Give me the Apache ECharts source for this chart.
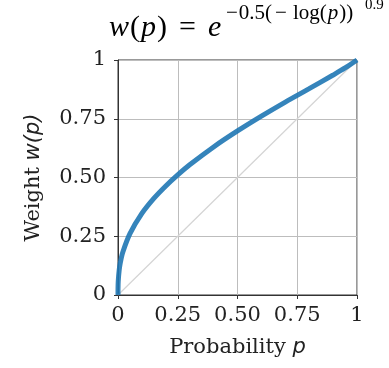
<!DOCTYPE html>
<html>
<head>
<meta charset="utf-8">
<script src="https://cdn.jsdelivr.net/npm/echarts@6/dist/echarts.min.js"></script>
<style>
  html, body { margin: 0; padding: 0; background: #fff; }
  #chart { width: 389px; height: 368px; }
</style>
</head>
<body>
<div id="chart"></div>
<script>
// Probability weighting curve w(p), sampled points
var probability = [0, 0.00001, 0.0001, 0.001, 0.005, 0.01, 0.02, 0.05, 0.1, 0.15, 0.2, 0.25, 0.3, 0.4, 0.5, 0.6, 0.7, 0.8, 0.9, 0.95, 1];
var weight      = [0, 0.011, 0.025, 0.058, 0.106, 0.139, 0.182, 0.261, 0.347, 0.411, 0.464, 0.511, 0.554, 0.630, 0.698, 0.761, 0.821, 0.878, 0.936, 0.966, 1];

// Identity reference line
var diagX = [0, 1];
var diagY = [0, 1];

var tickValues = [0, 0.25, 0.5, 0.75, 1];
var tickLabels = ['0', '0.25', '0.50', '0.75', '1'];

function tickText(v) {
  for (var i = 0; i < tickValues.length; i++) {
    if (Math.abs(v - tickValues[i]) < 1e-9) return tickLabels[i];
  }
  return '';
}

var curve = probability.map(function (p, i) { return [p, weight[i]]; });
var diag = diagX.map(function (x, i) { return [x, diagY[i]]; });

var serif = 'DejaVu Serif';
var mathFont = 'Liberation Serif';
var ink = '#222';

var axisCommon = {
  type: 'value',
  min: 0,
  max: 1,
  interval: 0.25,
  axisLine: { show: true, lineStyle: { color: '#333', width: 1 } },
  axisTick: { show: true, length: 4, lineStyle: { color: '#333' } },
  splitLine: { show: true, lineStyle: { color: '#bdbdbd', width: 1 } },
  axisLabel: {
    formatter: tickText,
    fontFamily: serif,
    fontSize: 21,
    color: ink
  },
  nameLocation: 'middle'
};

var nameRich = {
  t: { fontFamily: serif, fontSize: 21, color: ink },
  m: { fontFamily: 'DejaVu Sans', fontStyle: 'italic', fontSize: 21, color: ink }
};

var chart = echarts.init(document.getElementById('chart'), null, { renderer: 'canvas' });
chart.setOption({
  animation: false,
  backgroundColor: '#fff',
  grid: {
    left: 118, top: 60, right: 32, bottom: 73,
    show: true, borderColor: '#333', borderWidth: 1, backgroundColor: 'transparent'
  },
  xAxis: Object.assign({}, axisCommon, {
    name: '{t|Probability }{m|p}',
    nameGap: 42,
    nameTextStyle: { rich: nameRich },
    axisLabel: Object.assign({}, axisCommon.axisLabel, { margin: 10 })
  }),
  yAxis: Object.assign({}, axisCommon, {
    name: '{t|Weight }{m|w(p)}',
    nameGap: 74,
    nameRotate: 90,
    nameTextStyle: { rich: nameRich },
    axisLabel: Object.assign({}, axisCommon.axisLabel, { margin: 12 })
  }),
  graphic: [
    {
      // main part of the formula
      type: 'text', x: 109, y: 28,
      style: {
        text: '{i|w}{n|(}{i|p}{n|)}{o|=}{i|e}',
        verticalAlign: 'middle',
        rich: {
          i: { fontFamily: mathFont, fontStyle: 'italic', fontSize: 30, fill: '#000' },
          n: { fontFamily: mathFont, fontSize: 30, fill: '#000', padding: [0, 1, 0, 1] },
          o: { fontFamily: mathFont, fontSize: 30, fill: '#000', padding: [0, 12, 0, 11] }
        }
      }
    },
    {
      // exponent
      type: 'text', x: 226, y: 13,
      style: {
        text: '{a|\u2212}{n|0.5(}{b|\u2212}{n|log(}{i|p}{n|))}',
        verticalAlign: 'middle',
        rich: {
          i: { fontFamily: mathFont, fontStyle: 'italic', fontSize: 21, fill: '#000', padding: [0, 1, 0, 0] },
          n: { fontFamily: mathFont, fontSize: 21, fill: '#000', padding: [0, 1, 0, 0] },
          a: { fontFamily: mathFont, fontSize: 21, fill: '#000', padding: [0, 1, 0, 0] },
          b: { fontFamily: mathFont, fontSize: 21, fill: '#000', padding: [0, 6, 0, 2] }
        }
      }
    },
    {
      // exponent of the exponent
      type: 'text', x: 365, y: 5,
      style: { text: '0.9', fontFamily: mathFont, fontSize: 15, fill: '#000', verticalAlign: 'middle' }
    }
  ],
  series: [
    {
      type: 'line',
      data: diag,
      symbol: 'none',
      lineStyle: { color: '#d4d4d4', width: 1.2 },
      z: 2
    },
    {
      type: 'line',
      data: curve,
      symbol: 'none',
      smooth: 0.3,
      lineStyle: { color: '#1f77b4', width: 5, opacity: 0.9 },
      z: 3
    }
  ]
});
</script>
</body>
</html>
